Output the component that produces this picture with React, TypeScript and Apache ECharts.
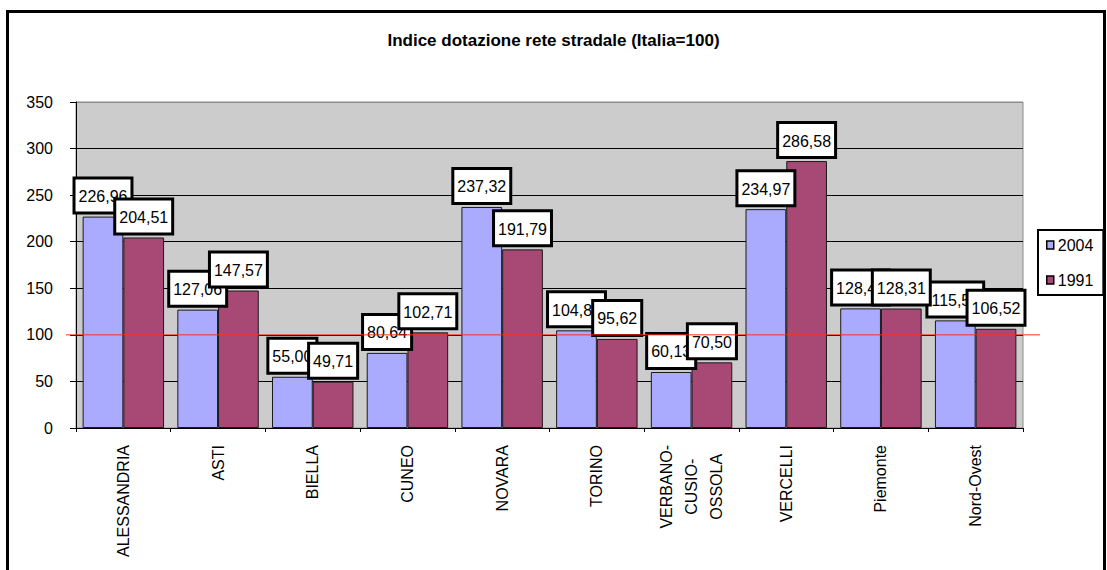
import React, { useEffect, useRef } from "react";
import * as echarts from "echarts";

// Province / area names along the category axis
const categories = [
  "ALESSANDRIA",
  "ASTI",
  "BIELLA",
  "CUNEO",
  "NOVARA",
  "TORINO",
  "VERBANO-\nCUSIO-\nOSSOLA",
  "VERCELLI",
  "Piemonte",
  "Nord-Ovest",
];

// Road network endowment index, Italy = 100
const values2004 = [226.96, 127.06, 55.0, 80.64, 237.32, 104.85, 60.13, 234.97, 128.42, 115.54];
const values1991 = [204.51, 147.57, 49.71, 102.71, 191.79, 95.62, 70.5, 286.58, 128.31, 106.52];

const seriesNames = ["2004", "1991"];

// Value axis ticks
const yMin = 0;
const yMax = 350;
const yStep = 50;

// National reference level
const ITALIA = 100;

const FONT = 'Arial, "Liberation Sans", sans-serif';

const GRID = { left: 76, right: 84, top: 102, bottom: 142 };
const W = 1107;
const H = 570;

const fmt = (v: number) => v.toFixed(2).replace(".", ",");

export default function App() {
  const ref = useRef<HTMLDivElement>(null);

  useEffect(() => {
    if (!ref.current) return;
    const chart = echarts.init(ref.current, undefined, { renderer: "svg" });

    const barLabel = {
      show: true,
      position: "top" as const,
      distance: 5,
      formatter: (p: any) => fmt(p.value),
      fontFamily: FONT,
      fontSize: 16,
      lineHeight: 18,
      color: "#000",
      backgroundColor: "#fff",
      borderColor: "#000",
      borderWidth: 3,
      padding: [8, 3, 6, 3],
    };

    const gridLineColors: string[] = [];
    for (let v = yMin; v <= yMax; v += yStep) gridLineColors.push(v === yMax ? "#8c8c8c" : "#000");

    chart.setOption({
      animation: false,
      backgroundColor: "#fff",
      title: {
        text: "Indice dotazione rete stradale (Italia=100)",
        left: "center",
        top: 27,
        textStyle: { fontFamily: FONT, fontSize: 17, fontWeight: "bold", color: "#000" },
      },
      legend: {
        orient: "vertical",
        left: 1038,
        top: 230,
        data: seriesNames,
        icon: "rect",
        itemWidth: 7,
        itemHeight: 8,
        itemGap: 19,
        padding: [7, 10, 7, 8],
        borderColor: "#000",
        borderWidth: 2,
        backgroundColor: "#fff",
        textStyle: { fontFamily: FONT, fontSize: 16, color: "#000", padding: [0, 0, 0, -1] },
        itemStyle: { borderColor: "#000", borderWidth: 1.5 },
      },
      grid: {
        ...GRID,
        show: true,
        backgroundColor: "#cccccc",
        borderColor: "#8c8c8c",
        borderWidth: 1,
      },
      xAxis: {
        type: "category",
        data: categories,
        axisLine: { lineStyle: { color: "#000", width: 1 } },
        axisTick: { show: true, length: 4, lineStyle: { color: "#000" } },
        axisLabel: {
          rotate: 90,
          margin: 17,
          interval: 0,
          color: "#000",
          fontFamily: FONT,
          fontSize: 16,
          formatter: (v: string) =>
            v
              .split("\n")
              .map((l) => `{c|${l}}`)
              .join("\n"),
          rich: {
            c: { align: "center", fontFamily: FONT, fontSize: 16, lineHeight: 25, color: "#000" },
          },
        },
      },
      yAxis: {
        type: "value",
        min: yMin,
        max: yMax,
        interval: yStep,
        axisLine: { show: true, lineStyle: { color: "#000", width: 1 } },
        axisTick: { show: true, length: 6, lineStyle: { color: "#000" } },
        axisLabel: { margin: 23, color: "#000", fontFamily: FONT, fontSize: 16 },
        splitLine: { show: true, lineStyle: { color: gridLineColors, width: 1 } },
      },
      series: [
        {
          name: seriesNames[0],
          type: "bar",
          data: values2004,
          barGap: "0%",
          barCategoryGap: "14%",
          itemStyle: { color: "#aaaaff", borderColor: "#1a1a1a", borderWidth: 1 },
          label: barLabel,
        },
        {
          name: seriesNames[1],
          type: "bar",
          data: values1991,
          barGap: "0%",
          barCategoryGap: "14%",
          itemStyle: { color: "#a84874", borderColor: "#1a1a1a", borderWidth: 1 },
          label: barLabel,
        },
      ],
    });

    // Italy = 100 reference line, positioned through the value axis scale
    const yRef = chart.convertToPixel({ yAxisIndex: 0 }, ITALIA) as number;
    chart.setOption({
      graphic: [
        {
          id: "frame",
          type: "rect",
          z: 100,
          silent: true,
          shape: { x: 7.5, y: 11.5, width: 1097, height: 600 },
          style: { fill: "none", stroke: "#000", lineWidth: 3 },
        },
        {
          id: "italia",
          type: "line",
          z: 100,
          silent: true,
          shape: {
            x1: GRID.left - 10,
            y1: yRef,
            x2: W - GRID.right + 17,
            y2: yRef,
          },
          style: { stroke: "#f5331f", lineWidth: 1 },
        },
      ],
    });

    return () => chart.dispose();
  }, []);

  return (
    <div
      ref={ref}
      style={{ position: "fixed", left: 0, top: 0, width: W, height: H, background: "#fff" }}
    />
  );
}
